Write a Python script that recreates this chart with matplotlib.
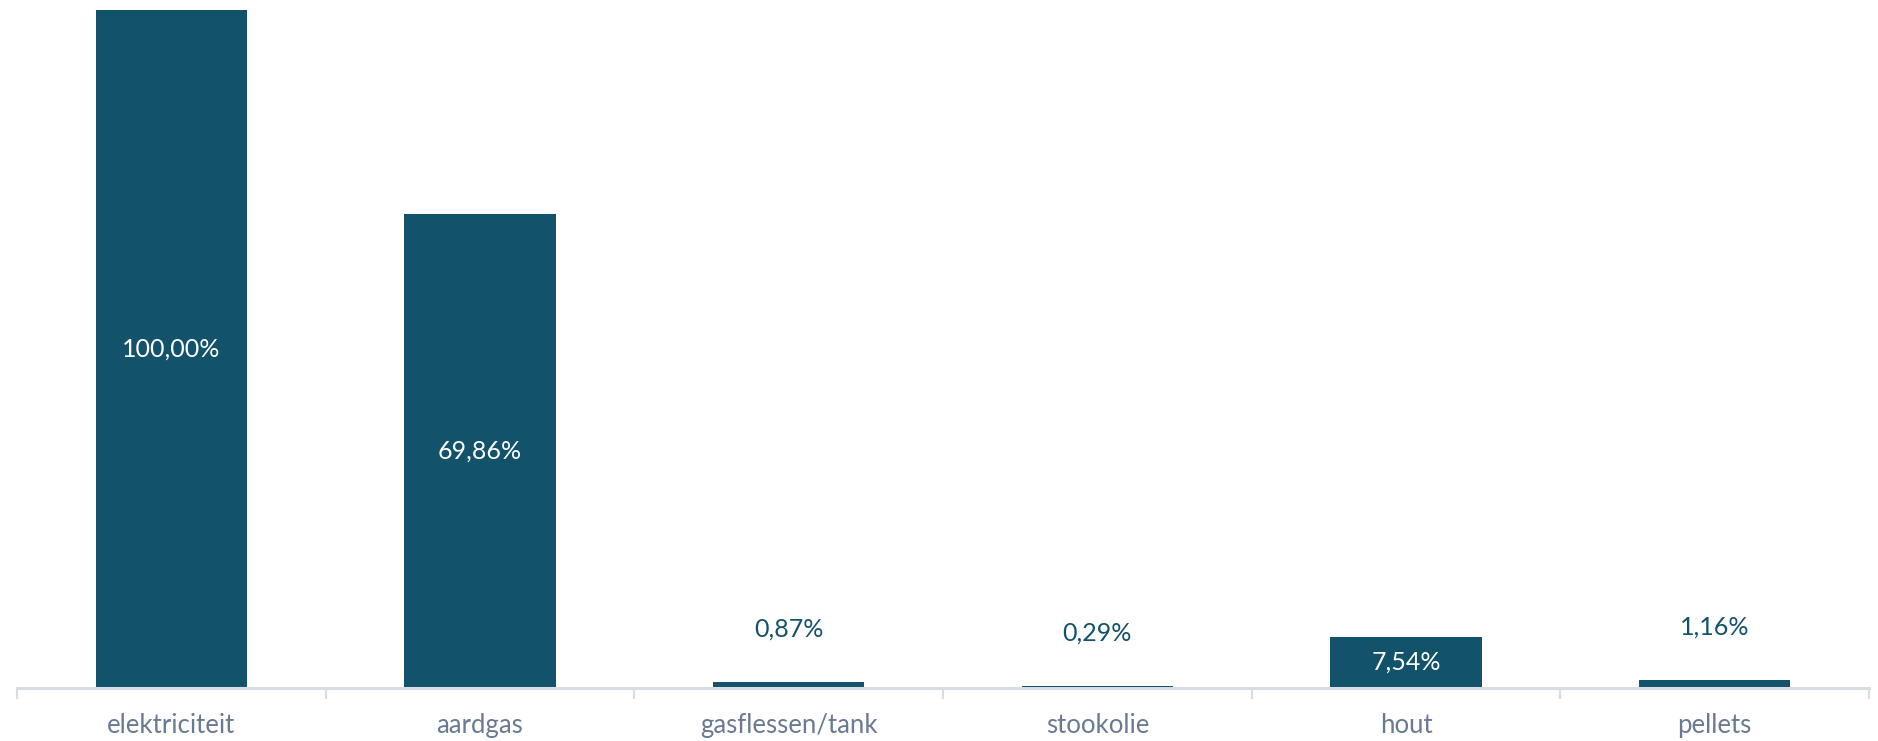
import numpy as np
import matplotlib.pyplot as plt

plt.rcParams['font.family'] = ['Lato', 'DejaVu Sans']

categories = ['elektriciteit', 'aardgas', 'gasflessen/tank', 'stookolie', 'hout', 'pellets']
values = [100.00, 69.86, 0.87, 0.29, 7.54, 1.16]
labels = ['100,00%', '69,86%', '0,87%', '0,29%', '7,54%', '1,16%']

bar_color = '#12526B'
tick_color = '#6A7A92'
axis_color = '#D9DDE3'

fig = plt.figure(figsize=(18.78, 7.41), dpi=100)
ax = fig.add_axes([17 / 1878, 53 / 741, 1852 / 1878, 678 / 741])

x = np.arange(len(categories))
bars = ax.bar(x, values, width=0.49, color=bar_color)

ax.set_xlim(-0.5, len(categories) - 0.5)
ax.set_ylim(0, 100)

# labels: white in the middle of big bars, dark above the tiny ones
for b, v, lab in zip(bars, values, labels):
    cx = b.get_x() + b.get_width() / 2
    if v > 5:
        ax.text(cx, v / 2, lab, ha='center', va='center', color='white', fontsize=18)
    else:
        ax.annotate(lab, (cx, v), xytext=(0, 53), textcoords='offset pixels',
                    ha='center', va='center', color=bar_color, fontsize=18)

for s in ['top', 'right', 'left']:
    ax.spines[s].set_visible(False)
ax.spines['bottom'].set_color(axis_color)
ax.spines['bottom'].set_linewidth(2.2)
ax.spines['bottom'].set_zorder(3)

ax.set_yticks([])
ax.set_xticks(x)
ax.set_xticklabels(categories, color=tick_color, fontsize=18.5)
ax.tick_params(axis='x', length=0, pad=18)
# category separators under the axis
ax.set_xticks(np.arange(len(categories) + 1) - 0.5, minor=True)
ax.tick_params(axis='x', which='minor', length=8, width=1.5, color=axis_color)

fig.savefig('out.png', dpi=100)
